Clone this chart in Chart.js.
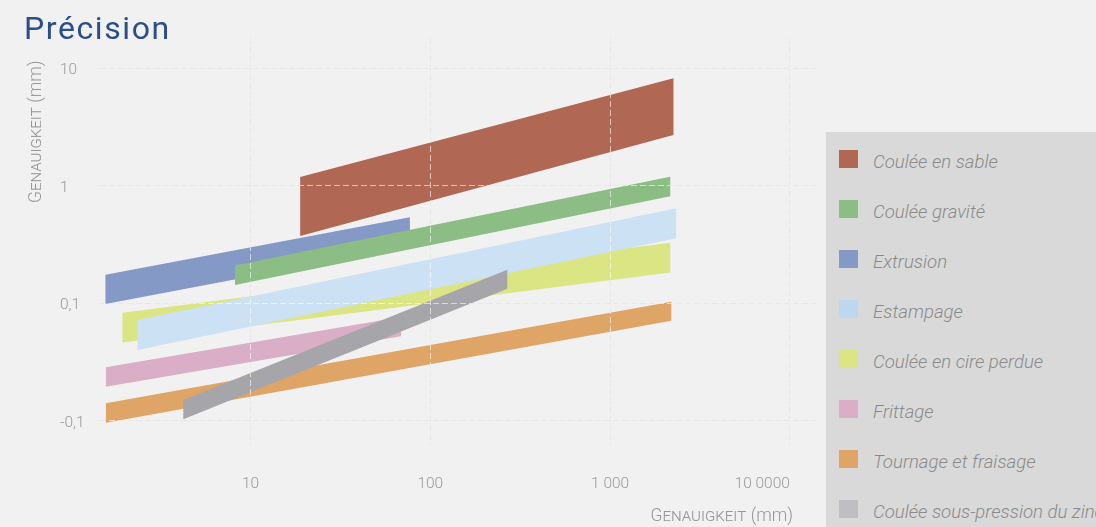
<!DOCTYPE html>
<html lang="fr">
<head>
<meta charset="utf-8">
<title>Précision</title>
<script src="https://cdn.jsdelivr.net/npm/chart.js@4.4.1/dist/chart.umd.min.js"></script>
<style>
  html, body { margin:0; padding:0; background:#f1f1f1; overflow:hidden; }
  #frame { position:relative; width:1096px; height:527px; overflow:hidden; font-family: Roboto, "Noto Sans", sans-serif; }
  #plot { position:absolute; left:0; top:0; }
  #heading { position:absolute; left:24px; top:12px; margin:0; font-size:32px; line-height:32px; font-weight:400; letter-spacing:1.6px; color:#2b4d88; white-space:nowrap; }
  .axis-caption { position:absolute; white-space:nowrap; font-size:17.5px; line-height:20px; font-weight:300; color:#979797; }
  .axis-caption .sc { font-variant: small-caps; }
  #xCaption { right:303px; top:505px; }
  #yCaption { left:25px; top:203px; transform: rotate(-90deg); transform-origin: 0 0; }
  #legend { position:absolute; left:826px; top:132px; width:300px; height:420px; background:#d9d9d9; }
  .entry { position:absolute; left:13px; height:19px; white-space:nowrap; }
  .swatch { position:absolute; left:0; top:0; width:19px; height:18px; }
  .entry-label { position:absolute; left:34px; top:2px; line-height:21px; font-size:18.6px; font-style:italic; font-weight:300; color:#8a8a8a; }
</style>
</head>
<body>
<div id="frame">
  <canvas id="plot" width="1096" height="527"></canvas>
  <h1 id="heading">Précision</h1>
  <div id="yCaption" class="axis-caption">G<span class="sc">enauigkeit</span> (mm)</div>
  <div id="xCaption" class="axis-caption">G<span class="sc">enauigkeit</span> (mm)</div>
  <div id="legend"></div>
</div>
<script>
// Manufacturing processes, in legend order
const processes = [
  'Coulée en sable',
  'Coulée gravité',
  'Extrusion',
  'Estampage',
  'Coulée en cire perdue',
  'Frittage',
  'Tournage et fraisage',
  'Coulée sous-pression du zinc'
];

// Part dimension range covered by each process (mm)
const sizeFrom = [18.9, 8.2, 1.56, 2.35, 1.94, 1.57, 1.57, 4.23];
const sizeTo   = [2250, 2160, 77, 2330, 2160, 68.7, 2190, 268];

// Achievable tolerance at the smallest dimension (mm): lower / upper bound
const tolFromLow  = [0.375, 0.143, 0.0988, 0.0401, 0.0463, 0.0195, 0.00963, 0.0103];
const tolFromHigh = [1.19, 0.21, 0.175, 0.0722, 0.0833, 0.0286, 0.0141, 0.0150];

// Achievable tolerance at the largest dimension (mm): lower / upper bound
const tolToLow  = [2.72, 0.817, 0.306, 0.358, 0.183, 0.0524, 0.0712, 0.133];
const tolToHigh = [8.27, 1.2, 0.541, 0.646, 0.329, 0.0766, 0.103, 0.193];

// Axis ticks and their printed labels
const xTickValues = [10, 100, 1000, 10000];
const xTickLabels = ['10', '100', '1 000', '10 0000'];
const yTickValues = [0.01, 0.1, 1, 10];
const yTickLabels = ['-0,1', '0,1', '1', '10'];

// Visible ranges of the two logarithmic axes
const X_MIN = 1.455, X_MAX = 14150;
const Y_MIN = 0.00609, Y_MAX = 18.22;

const palette = ['#b06753', '#8bbd85', '#8599c6', '#cde1f4', '#dbe583', '#dbaec7', '#dea567', '#a6a5a9'];
const legendPalette = ['#b06753', '#8bbd85', '#8599c6', '#bcd8f0', '#dbe583', '#dbaec7', '#dea567', '#bfbec2'];

// Each process is a closed band: lower edge left→right, upper edge right→left
const datasets = processes.map((name, i) => ({
  label: name,
  data: [
    { x: sizeFrom[i], y: tolFromLow[i] },
    { x: sizeTo[i],   y: tolToLow[i] },
    { x: sizeTo[i],   y: tolToHigh[i] },
    { x: sizeFrom[i], y: tolFromHigh[i] }
  ],
  fill: 'shape',
  backgroundColor: palette[i],
  borderColor: 'rgba(0,0,0,0)',
  borderWidth: 0,
  pointRadius: 0,
  pointHoverRadius: 0,
  tension: 0,
  // die-cast zinc band sits above everything else
  order: i === processes.length - 1 ? 0 : i + 1
}));

const tickFont = { family: 'Roboto', size: 15.5, weight: 300 };
const tickColor = '#999999';
const gridUnder = '#c4c4c4';
const gridOver = 'rgba(255,255,255,0.6)';
const dash = [6, 3];

const xTicks = s => { s.ticks = [X_MIN].concat(xTickValues).map(v => ({ value: v })); };
const yTicks = s => { s.ticks = yTickValues.map(v => ({ value: v })); };
const xGridColor = c => (c.tick && c.tick.value === X_MIN) ? 'rgba(0,0,0,0)' : null;

new Chart(document.getElementById('plot'), {
  type: 'line',
  data: { datasets },
  options: {
    responsive: false,
    animation: false,
    events: [],
    layout: { padding: { left: 60, right: 279, top: 38, bottom: 0 } },
    plugins: { legend: { display: false }, tooltip: { enabled: false }, title: { display: false } },
    scales: {
      x: {
        type: 'logarithmic', position: 'bottom', min: X_MIN, max: X_MAX, weight: 0,
        afterBuildTicks: xTicks,
        afterFit: s => { s.height = 81; },
        ticks: {
          autoSkip: false, maxRotation: 0, align: 'inner', padding: 29,
          font: tickFont, color: tickColor,
          callback: v => { const k = xTickValues.indexOf(v); return k < 0 ? '' : xTickLabels[k]; }
        },
        grid: { drawTicks: false, lineWidth: 1, color: c => xGridColor(c) || gridUnder },
        border: { display: false, dash }
      },
      y: {
        type: 'logarithmic', position: 'left', min: Y_MIN, max: Y_MAX, weight: 0,
        afterBuildTicks: yTicks,
        afterFit: s => { s.width = 40; },
        ticks: {
          autoSkip: false, crossAlign: 'far', labelOffset: 2,
          font: tickFont, color: tickColor,
          callback: v => { const k = yTickValues.indexOf(v); return k < 0 ? '' : yTickLabels[k]; }
        },
        grid: { drawTicks: false, lineWidth: 1, color: gridUnder },
        border: { display: false, dash }
      },
      // same grid again, drawn over the bands in translucent white
      xOver: {
        type: 'logarithmic', position: 'bottom', min: X_MIN, max: X_MAX, weight: 1,
        afterBuildTicks: xTicks,
        afterFit: s => { s.height = 0; },
        ticks: { display: false, autoSkip: false },
        grid: { z: 1, drawTicks: false, lineWidth: 1, color: c => xGridColor(c) || gridOver },
        border: { display: false, dash }
      },
      yOver: {
        type: 'logarithmic', position: 'left', min: Y_MIN, max: Y_MAX, weight: 1,
        afterBuildTicks: yTicks,
        afterFit: s => { s.width = 0; },
        ticks: { display: false, autoSkip: false },
        grid: { z: 1, drawTicks: false, lineWidth: 1, color: gridOver },
        border: { display: false, dash }
      }
    }
  }
});

// Legend panel
const legend = document.getElementById('legend');
processes.forEach((name, i) => {
  const entry = document.createElement('div');
  entry.className = 'entry';
  entry.style.top = (18 + i * 50) + 'px';
  const sw = document.createElement('span');
  sw.className = 'swatch';
  sw.style.background = legendPalette[i];
  const txt = document.createElement('span');
  txt.className = 'entry-label';
  txt.textContent = name;
  entry.appendChild(sw);
  entry.appendChild(txt);
  legend.appendChild(entry);
});
</script>
</body>
</html>
